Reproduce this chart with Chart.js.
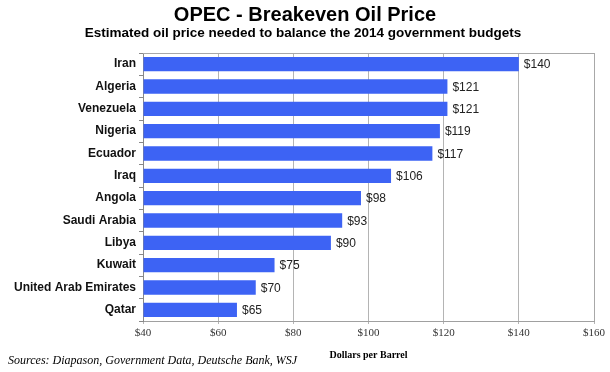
<!DOCTYPE html>
<html>
<head>
<meta charset="utf-8">
<script src="https://cdn.jsdelivr.net/npm/chart.js@4"></script>
<style>
  html, body { margin: 0; padding: 0; background: #fff; }
  #wrap { width: 610px; height: 372px; }
</style>
</head>
<body>
<div id="wrap"><canvas id="barchart" width="610" height="372"></canvas></div>
<script>
const countries = [
  "Iran", "Algeria", "Venezuela", "Nigeria", "Ecuador", "Iraq",
  "Angola", "Saudi Arabia", "Libya", "Kuwait", "United Arab Emirates", "Qatar",
];
const breakeven = [140, 121, 121, 119, 117, 106, 98, 93, 90, 75, 70, 65];
const xTicks = [40, 60, 80, 100, 120, 140, 160];

// titles, box, value labels and source note
const extras = {
  id: "extras",
  afterDatasetsDraw(chart) {
    const ctx = chart.ctx;
    const area = chart.chartArea;
    ctx.save();
    // box round the plot
    ctx.strokeStyle = "#a8a8a8";
    ctx.lineWidth = 1;
    ctx.beginPath();
    ctx.moveTo(area.left, area.top + 0.5);
    ctx.lineTo(area.right + 0.5, area.top + 0.5);
    ctx.lineTo(area.right + 0.5, area.bottom);
    ctx.stroke();

    // value labels
    ctx.fillStyle = "#222";
    ctx.font = "12px 'Liberation Sans', Arial, sans-serif";
    ctx.textAlign = "left";
    ctx.textBaseline = "middle";
    chart.getDatasetMeta(0).data.forEach((bar, i) => {
      ctx.fillText("$" + breakeven[i], bar.x + 5, bar.y + 1);
    });

    // title + subtitle
    ctx.textAlign = "center";
    ctx.fillStyle = "#000";
    ctx.font = "bold 20px 'Liberation Sans', Arial, sans-serif";
    ctx.fillText("OPEC - Breakeven Oil Price", 305, 15);
    ctx.font = "bold 13.5px 'Liberation Sans', Arial, sans-serif";
    ctx.fillText("Estimated oil price needed to balance the 2014 government budgets", 303, 33);

    // axis title
    ctx.font = "bold 10px 'Liberation Serif', 'Times New Roman', serif";
    ctx.fillText("Dollars per Barrel", (area.left + area.right) / 2, 355);

    // source
    ctx.textAlign = "left";
    ctx.font = "italic 12px 'Liberation Serif', 'Times New Roman', serif";
    ctx.fillText("Sources: Diapason, Government Data, Deutsche Bank, WSJ", 8, 361);
    ctx.restore();
  },
};

const ctx = document.getElementById("barchart");

new Chart(ctx, {
  type: "bar",
  data: {
    labels: countries,
    datasets: [
      {
        data: breakeven,
        base: 40,
        backgroundColor: "#3d63f4",
        borderWidth: 0,
        categoryPercentage: 1,
        barPercentage: 0.64,
      },
    ],
  },
  options: {
    indexAxis: "y",
    responsive: false,
    animation: false,
    layout: { padding: { top: 53, right: 16, bottom: 0, left: 0 } },
    plugins: {
      legend: { display: false },
      tooltip: { enabled: false },
    },
    scales: {
      x: {
        min: 40,
        max: 160,
        afterBuildTicks(scale) {
          scale.ticks = xTicks.map((v) => ({ value: v }));
        },
        afterFit(scale) {
          scale.height = 51;
        },
        ticks: {
          color: "#333",
          padding: 3,
          font: { family: "'Liberation Serif', 'Times New Roman', serif", size: 11 },
          callback: (v) => "$" + v,
        },
        grid: { color: "#b4b4b4", tickLength: 3 },
        border: { color: "#a0a0a0" },
      },
      y: {
        afterFit(scale) {
          scale.width = 143;
        },
        ticks: {
          color: "#111",
          padding: 3,
          font: { family: "'Liberation Sans', Arial, sans-serif", size: 12, weight: "bold" },
        },
        grid: { drawOnChartArea: false, tickLength: 4, color: "#888", offset: true },
        border: { color: "#888" },
      },
    },
  },
  plugins: [extras],
});
</script>
</body>
</html>
